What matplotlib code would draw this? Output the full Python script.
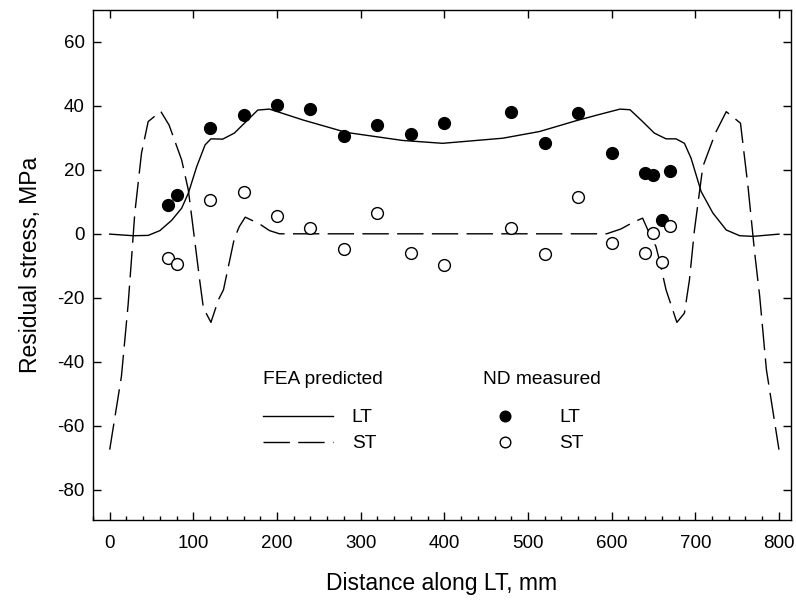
import numpy as np
import matplotlib
matplotlib.use("Agg")
from matplotlib import pyplot as plt
from matplotlib.ticker import MultipleLocator

plt.rcParams['font.family'] = ['Liberation Sans', 'DejaVu Sans']
plt.rcParams['axes.unicode_minus'] = False

# FEA predicted, LT component
fea_lt_x = [0, 28, 46, 60, 74, 86, 94, 104, 114, 121, 135, 149, 163, 177, 191,
            231, 283, 350, 398, 470, 514, 558, 585, 610, 622, 637, 651, 665, 677,
            687, 695, 707, 721, 737, 753, 769, 800]
fea_lt_y = [-0.1, -0.6, -0.5, 1.0, 4.2, 8.0, 12.7, 21.0, 27.8, 29.7, 29.6, 31.5, 35.1, 38.7, 39.0,
            35.6, 31.7, 29.2, 28.3, 29.9, 32.0, 35.4, 37.3, 39.0, 38.8, 35.1, 31.5, 29.7, 29.7,
            28.3, 23.6, 13.2, 6.5, 1.2, -0.6, -0.8, -0.1]

# FEA predicted, ST component
fea_st_x = [0, 14, 22, 26, 30, 38, 46, 61, 71, 86, 94, 108, 112, 121, 130, 136,
            149, 155, 162, 179, 191, 203, 400, 594, 611, 625, 637, 645, 653, 657,
            665, 671, 678, 687, 693, 699, 709, 724, 737, 754, 763, 771, 777, 785, 800]
fea_st_y = [-67.5, -44.6, -22.2, -8.1, 6.5, 25.2, 35.1, 38.3, 34.0, 23.1, 13.7, -15.4, -23.2, -27.7, -20.6, -17.5,
            -1.4, 2.3, 5.2, 3.1, 1.0, 0.0, 0.0, 0.0, 1.5, 3.5, 4.9, 0.2, -4.0, -8.1,
            -17.5, -22.2, -27.7, -24.8, -14.4, 1.2, 21.0, 31.5, 38.2, 34.6, 14.8, -6.0, -19.6, -42.5, -67.5]

# ND measured
nd_x = [70, 80, 120, 160, 200, 240, 280, 320, 360, 400, 480, 520, 560, 600, 640, 650, 660, 670]
nd_lt = [9.0, 12.0, 33.0, 37.0, 40.2, 39.0, 30.5, 34.0, 31.2, 34.5, 38.1, 28.3, 37.9, 25.3, 18.9, 18.3, 4.2, 19.7]
nd_st = [-7.5, -9.5, 10.6, 13.0, 5.6, 1.8, -4.8, 6.5, -6.1, -9.7, 1.7, -6.4, 11.4, -2.8, -6.0, 0.2, -8.7, 2.3]

fig = plt.figure(figsize=(7.96, 6.01), dpi=100)
ax = fig.add_axes([0.1168, 0.1348, 0.8765, 0.8486])

l_lt, = ax.plot(fea_lt_x, fea_lt_y, color='black', lw=1.0, label='LT')
l_st, = ax.plot(fea_st_x, fea_st_y, color='black', lw=1.0, dashes=(19, 6), label='ST')
p_lt, = ax.plot(nd_x, nd_lt, 'o', color='black', ms=8.5, ls='none', label='LT')
p_st, = ax.plot(nd_x, nd_st, 'o', mfc='white', mec='black', mew=1.0, ms=8.5, ls='none', label='ST')

ax.set_xlim(-20, 814)
ax.set_ylim(-89.5, 70)
ax.xaxis.set_major_locator(MultipleLocator(100))
ax.xaxis.set_minor_locator(MultipleLocator(20))
ax.yaxis.set_major_locator(MultipleLocator(20))

ax.tick_params(which='major', direction='in', length=6, width=1, labelsize=13.5,
               top=True, right=True)
ax.tick_params(which='minor', direction='in', length=3, width=1, top=False, right=False)
ax.tick_params(axis='x', which='major', pad=11)
ax.tick_params(axis='y', which='major', pad=6)
ax.tick_params(axis='y', which='minor', left=False)

for s in ax.spines.values():
    s.set_linewidth(1.0)

ax.set_xlabel("Distance along LT, mm", fontsize=16.5, labelpad=14)
ax.set_ylabel("Residual stress, MPa", fontsize=16.5, labelpad=11)

leg1 = ax.legend(handles=[l_lt, l_st], title="FEA predicted", loc='upper left',
                 bbox_to_anchor=(0.243, 0.292), frameon=False, fontsize=13.8,
                 title_fontsize=13.8, alignment='left', borderpad=0, borderaxespad=0,
                 handlelength=3.7, handletextpad=0.95, labelspacing=0.45)
leg1._legend_box.sep = 15
ax.add_artist(leg1)
leg2 = ax.legend(handles=[p_lt, p_st], title="ND measured", loc='upper left',
                 bbox_to_anchor=(0.5585, 0.292), frameon=False, fontsize=13.8,
                 title_fontsize=13.8, alignment='left', borderpad=0, borderaxespad=0,
                 handlelength=2.35, handletextpad=1.65, labelspacing=0.45, numpoints=1,
                 markerscale=0.9)
leg2._legend_box.sep = 15

fig.savefig("out.png", dpi=100)
